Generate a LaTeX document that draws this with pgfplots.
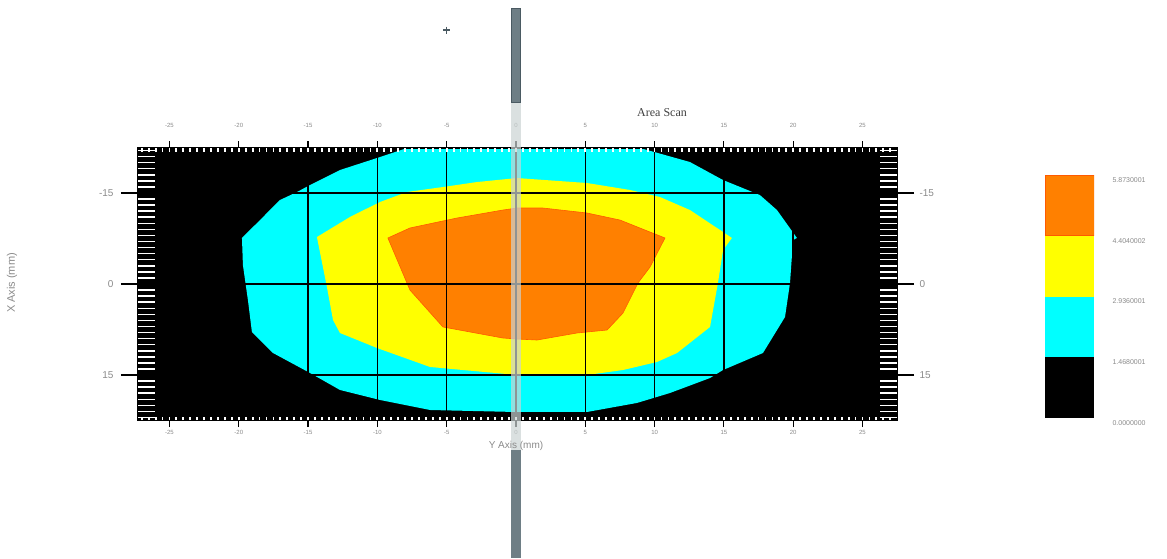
\documentclass[border=0pt]{standalone}
\usepackage{fontspec}
\setmainfont{Liberation Sans}
\newfontfamily\seriffont{Liberation Serif}
\usepackage{pgfplots}
\pgfplotsset{compat=1.18}
\definecolor{cOrange}{HTML}{FF8000}
\definecolor{cYellow}{HTML}{FFFF00}
\definecolor{cCyan}{HTML}{00FFFF}
\definecolor{cEdge}{HTML}{FF5A00}
\definecolor{lblgray}{HTML}{8A8A8A}
\definecolor{bardark}{HTML}{6E7E85}
\definecolor{bardarker}{HTML}{4A5A62}
\definecolor{barlight}{HTML}{CBD3D3}

\pgfplotsset{
  mainframe/.style={
    at={(138pt,138pt)}, anchor=south west, scale only axis,
    width=759pt, height=272pt,
    xmin=-27.27, xmax=27.49, ymin=-22.41, ymax=22.41, y dir=reverse,
    /pgf/number format/assume math mode=true,
  },
  overlay/.style={mainframe, axis line style={draw=none}},
}

\begin{document}
\begin{tikzpicture}
\path[use as bounding box] (0pt,0pt) rectangle (1167pt,558pt);

% ---------- main axis: contour field, grid, frame ----------
\begin{axis}[mainframe,
  axis background/.style={fill=black},
  axis on top, clip=false,
  axis line style={black, line width=1.5pt},
  xtick={-25,-20,...,25}, ytick={-15,0,15},
  grid=major, major grid style={black, line width=1.4pt},
  tick align=outside, xtick pos=both, major tick length=7pt,
  xtick style={black, line width=1.2pt},
  ytick style={draw=none},
  xticklabel pos=lower, yticklabels={},
  xticklabel style={font=\fontsize{6}{7}\selectfont, text=lblgray},
]
% level 1.468 - 2.936
\addplot[fill=cCyan, draw=none] coordinates {
 (-7.86,-22.41) (-10.03,-20.76) (-12.70,-18.78) (-14.86,-16.31) (-15.80,-15.16)
 (-17.03,-13.84) (-18.47,-10.54) (-19.77,-7.58) (-19.70,-3.13) (-19.34,2.64)
 (-19.05,7.91) (-17.53,11.37) (-14.86,14.66) (-12.70,17.46) (-9.81,19.11)
 (-6.20,20.76) (0,21.09) (5.12,21.09) (8.73,19.60) (11.11,17.96) (14.00,15.49)
 (14.94,14.17) (17.82,11.37) (19.41,5.44) (19.77,-0.16) (19.99,-7.25)
 (20.27,-7.58) (18.83,-12.19) (17.60,-14.66) (14.94,-17.13) (12.55,-20.10)
 (8.95,-22.41)
} -- cycle;
% level 2.936 - 4.404
\addplot[fill=cYellow, draw=none] coordinates {
 (0.07,-17.46) (-2.81,-16.80) (-5.27,-15.98) (-7.86,-15.16) (-9.81,-13.51)
 (-11.98,-11.04) (-14.36,-7.74) (-13.64,0.49) (-13.20,5.93) (-12.70,8.07)
 (-10.03,10.54) (-6.20,13.67) (0.07,14.99) (5.12,14.99) (7.72,14.17)
 (10.17,12.85) (11.62,11.37) (14.00,7.08) (14.57,-0.16) (14.94,-5.60)
 (15.58,-7.58) (14.72,-8.90) (12.55,-12.19) (10.39,-14.33) (8.23,-15.49)
 (5.12,-16.64)
} -- cycle;
% level 4.404 - 5.873
\addplot[fill=cOrange, draw=cEdge, line width=0.6pt] coordinates {
 (0.07,-12.52) (-0.94,-12.19) (-4.26,-10.87) (-7.65,-9.23) (-9.24,-7.58)
 (-7.65,0.99) (-5.27,7.08) (-0.94,8.90) (0.07,9.06) (1.52,9.23) (4.40,8.07)
 (6.57,7.58) (7.72,4.78) (8.80,-0.16) (9.67,-2.80) (10.75,-7.58) (7.50,-10.54)
 (5.12,-11.70) (1.95,-12.52)
} -- cycle;
% small marker above the chart
\addplot[only marks, mark=+, mark size=3.5pt, line width=1.4pt, color=bardarker]
  coordinates {(-5,-41.85)};
\end{axis}

% ---------- overlay B: top tick labels, y major ticks, left labels ----------
\begin{axis}[overlay,
  xtick={-25,-20,...,25}, xtick style={draw=none}, xticklabel pos=upper,
  xticklabel style={font=\fontsize{6}{7}\selectfont, text=lblgray},
  ytick={-15,0,15}, tick align=outside, ytick pos=both, major tick length=17pt,
  ytick style={black, line width=1.2pt},
  yticklabel pos=left,
  yticklabel style={font=\fontsize{10}{12}\selectfont, text=lblgray, xshift=-4pt},
]
\end{axis}

% ---------- overlay C: right labels, white marks along top and bottom ----------
\begin{axis}[overlay,
  xtick={-27,-26.5,...,27.2}, xticklabels={}, xtick pos=both,
  tick align=inside, major tick length=3.5pt,
  xtick style={white, line width=1.8pt},
  ytick={-15,0,15}, ytick style={draw=none}, yticklabel pos=right,
  yticklabel style={font=\fontsize{10}{12}\selectfont, text=lblgray, xshift=19pt},
]
\end{axis}

% ---------- overlay D: white dashes along left and right ----------
\begin{axis}[overlay,
  xtick=\empty,
  ytick={-22,-21,-20,-19,-18,-17,-16,-14,-13,-12,-11,-10,-9,-8,-7,-6,-5,-4,-3,-2,-1,
         1,2,3,4,5,6,7,8,9,10,11,12,13,14,16,17,18,19,20,21,22},
  yticklabels={}, ytick pos=both,
  tick align=inside, major tick length=17pt,
  ytick style={white, line width=1.5pt},
]
\end{axis}

% ---------- colour scale ----------
\begin{axis}[
  at={(1045pt,140pt)}, anchor=south west, scale only axis,
  width=49pt, height=243pt,
  xmin=0, xmax=1, ymin=0, ymax=5.873,
  axis line style={draw=none},
  xtick=\empty,
  ytick={0,1.468,2.936,4.404,5.873},
  yticklabels={0.0000000,1.4680001,2.9360001,4.4040002,5.8730001},
  yticklabel pos=right, ytick style={draw=none}, major tick length=0pt,
  yticklabel style={font=\fontsize{7}{8}\selectfont, text=lblgray, xshift=15pt, yshift=-5pt, anchor=west},
]
\addplot[fill=black, draw=none] coordinates {(0,0) (1,0) (1,1.468) (0,1.468)} -- cycle;
\addplot[fill=cCyan, draw=none] coordinates {(0,1.468) (1,1.468) (1,2.936) (0,2.936)} -- cycle;
\addplot[fill=cYellow, draw=none] coordinates {(0,2.936) (1,2.936) (1,4.404) (0,4.404)} -- cycle;
\addplot[fill=cOrange, draw=cEdge, line width=0.6pt] coordinates {(0,4.404) (1,4.404) (1,5.873) (0,5.873)} -- cycle;
\end{axis}

% ---------- vertical slider bar seen in the screenshot ----------
\fill[barlight, opacity=0.7] (511pt,108pt) rectangle (521pt,456pt);
\filldraw[fill=bardark, draw=bardarker, line width=0.8pt] (511.4pt,456pt) rectangle (520.6pt,550pt);
\fill[bardark] (511pt,0pt) rectangle (521pt,108pt);

% ---------- texts ----------
\node[font=\seriffont\fontsize{12}{14}\selectfont, text=black!75] at (662pt,445pt) {Area Scan};
\node[font=\fontsize{10}{12}\selectfont, text=lblgray] at (516pt,112pt) {Y Axis (mm)};
\node[font=\fontsize{11}{13}\selectfont, text=lblgray, rotate=90] at (12pt,275pt) {X Axis (mm)};
\end{tikzpicture}
\end{document}
